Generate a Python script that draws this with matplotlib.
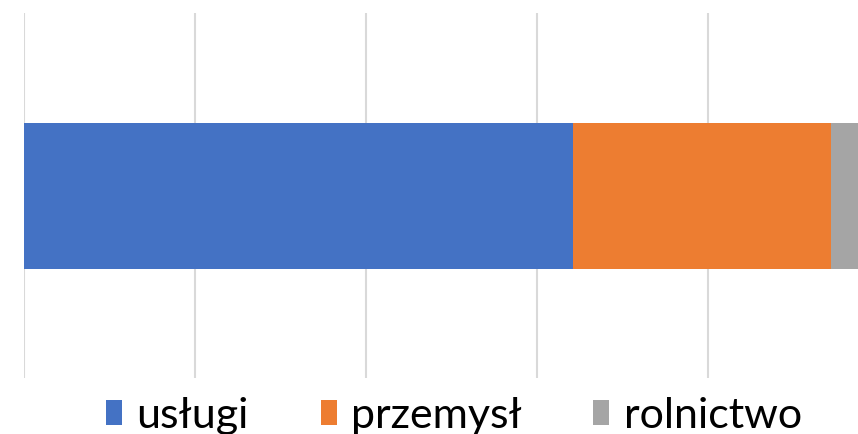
import matplotlib.pyplot as plt

# udzial sektorow (%)
sektory = ["usługi", "przemysł", "rolnictwo"]
udzialy = [64.2, 30.2, 5.6]
kolory = ["#4472C4", "#ED7D31", "#A5A5A5"]

plt.rcParams['font.family'] = ['Lato', 'DejaVu Sans']

fig = plt.figure(figsize=(8.58, 4.34), dpi=100)
# os wychodzi poza prawa krawedz obrazka (jak w oryginale)
ax = fig.add_axes([24 / 858, 56 / 434, 855 / 858, 365 / 434])

lewo = 0
for nazwa, v, c in zip(sektory, udzialy, kolory):
    ax.barh(0, v, left=lewo, height=0.4, color=c, label=nazwa, zorder=3)
    lewo += v

ax.set_xlim(0, 100)
ax.set_ylim(-0.5, 0.5)
ax.set_xticks([0, 20, 40, 60, 80, 100])
ax.grid(axis="x", color="#D9D9D9", linewidth=1.5, zorder=0)
ax.tick_params(left=False, bottom=False, labelleft=False, labelbottom=False)
for s in ax.spines.values():
    s.set_visible(False)

fig.legend(loc="center", bbox_to_anchor=(454 / 858, 18 / 434), ncol=3,
           frameon=False, fontsize=31, handlelength=0.37, handleheight=0.53,
           handletextpad=0.33, columnspacing=1.67, borderaxespad=0)

fig.savefig("out.png", dpi=100)
